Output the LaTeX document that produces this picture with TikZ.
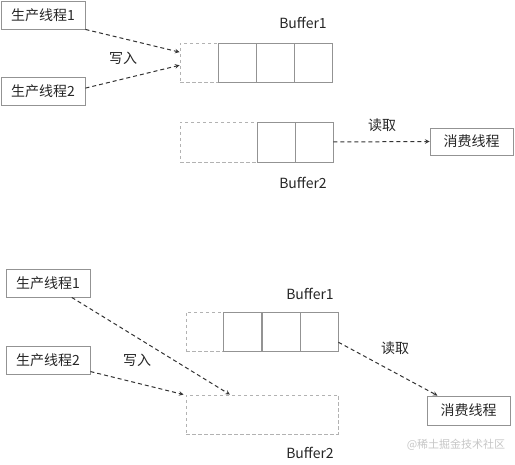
\documentclass[tikz,border=0pt]{standalone}
\usepackage{fontspec}
\setmainfont{Noto Sans CJK SC}
\usetikzlibrary{calc}

\begin{document}
\begin{tikzpicture}[
    x=1pt, y=-1pt,
    every node/.style={font=\fontsize{14}{16}\selectfont, text=black!85},
    thread/.style={rectangle, draw=gray!85, line width=0.9pt, minimum width=84pt, minimum height=28pt, inner sep=0pt},
    cell/.style={rectangle, draw=gray!85, line width=0.9pt, minimum width=38pt, minimum height=39pt, inner sep=0pt},
    freecell/.style={rectangle, draw=gray!60, line width=0.9pt, dash pattern=on 3.5pt off 2.5pt, inner sep=0pt},
    label/.style={inner sep=0pt},
    arrow/.style={->, >=stealth, line width=1pt, black!80, dash pattern=on 4pt off 3pt},
]
\useasboundingbox (0,0) rectangle (515,465);

% ---- double buffer, writing to Buffer1
\node[thread] (prodA) at (43,15) {生产线程1};
\node[thread] (prodB) at (43,91) {生产线程2};
\node[freecell, minimum width=38pt, minimum height=39pt] (bufA0) at (199,62.5) {};
\node[cell] (bufA1) at (237,62.5) {};
\node[cell] (bufA2) at (275,62.5) {};
\node[cell] (bufA3) at (313,62.5) {};
\node[label] (bufAlbl) at (303,23) {Buffer1};
\node[freecell, minimum width=77pt, minimum height=40pt] (bufB0) at (218.5,142) {};
\node[cell, minimum height=40pt] (bufB1) at (276,142) {};
\node[cell, minimum height=40pt] (bufB2) at (314,142) {};
\node[label] (bufBlbl) at (303,183) {Buffer2};
\node[label] (writeA) at (123,58) {写入};
\node[label] (readA) at (382,125) {读取};
\node[thread, minimum width=83pt, minimum height=27pt] (consA) at (471.5,141.5) {消费线程};
\draw[arrow] (prodA.south east) -- ($(bufA0.north west)!0.24!(bufA0.south west)$);
\draw[arrow] ($(prodB.north east)!0.4!(prodB.south east)$) -- ($(bufA0.north west)!0.57!(bufA0.south west)$);
\draw[arrow] (bufB2.east) -- (consA.west);

% ---- both threads writing to Buffer2
\node[thread] (prodC) at (48,283) {生产线程1};
\node[thread] (prodD) at (48,360) {生产线程2};
\node[freecell, minimum width=37pt, minimum height=39pt] (bufC0) at (204.5,331.5) {};
\node[cell] (bufC1) at (242.5,331.5) {};
\node[cell] (bufC2) at (281,331.5) {};
\node[cell] (bufC3) at (319,331.5) {};
\node[label] (bufClbl) at (310,294) {Buffer1};
\node[freecell, minimum width=152pt, minimum height=39pt] (bufD) at (262,414.5) {};
\node[label] (bufDlbl) at (310,453) {Buffer2};
\node[label] (writeB) at (137,360) {写入};
\node[label] (readB) at (395,348) {读取};
\node[thread, minimum width=83pt, minimum height=29pt] (consB) at (468.5,410.5) {消费线程};
\draw[arrow] ($(prodC.south west)!0.78!(prodC.south east)$) -- ($(bufD.north west)!0.29!(bufD.north east)$);
\draw[arrow] ($(prodD.north east)!0.9!(prodD.south east)$) -- ([xshift=-2pt]bufD.north west);
\draw[arrow] ($(bufC3.north east)!0.77!(bufC3.south east)$) -- ($(consB.north west)!0.13!(consB.north east)$);

\node[label, font=\fontsize{11}{12}\selectfont, text=gray!45] (mark) at (456,445) {@稀土掘金技术社区};
\end{tikzpicture}
\end{document}
